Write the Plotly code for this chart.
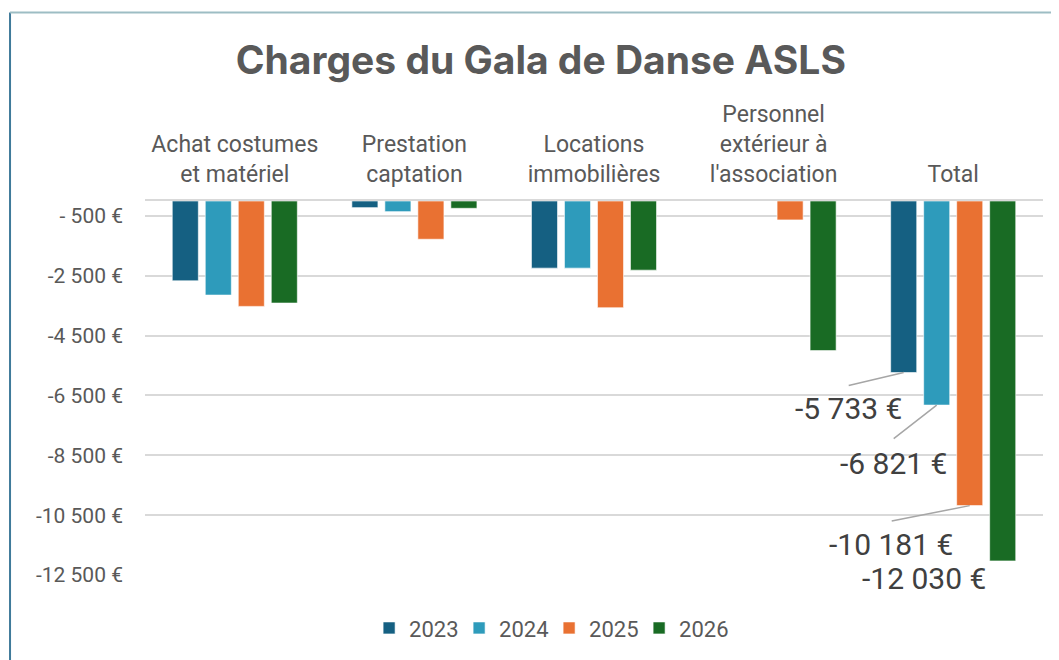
import plotly.graph_objects as go

categories = ["Achat costumes<br>et matériel", "Prestation<br>captation", "Locations<br>immobilières",
              "Personnel<br>extérieur à<br>l'association", "Total"]
years = ["2023", "2024", "2025", "2026"]
values_2023 = [-2667, -222, -2244, 0, -5733]
values_2024 = [-3144, -356, -2244, 0, -6821]
values_2025 = [-3522, -1278, -3567, -633, -10181]
values_2026 = [-3411, -244, -2311, -5000, -12030]
series = [values_2023, values_2024, values_2025, values_2026]
colors = ["#156082", "#2e9bbb", "#e97132", "#196b24"]

tick_vals = [-500, -2500, -4500, -6500, -8500, -10500, -12500]
tick_text = ["- 500 €", "-2 500 €", "-4 500 €", "-6 500 €", "-8 500 €", "-10 500 €", "-12 500 €"]

total_labels = ["-5 733 €", "-6 821 €", "-10 181 €", "-12 030 €"]

FONT = "Roboto"
GREY = "#595959"

fig = go.Figure()
for yr, vals, col in zip(years, series, colors):
    fig.add_trace(go.Bar(
        x=categories, y=vals, name=yr,
        marker=dict(color=col, line=dict(color="rgba(255,255,255,0.6)", width=1)),
    ))

# data labels for the Total bars (pixel offsets from each bar's bottom centre)
bar_shift = [-49.5, -16.5, 16.5, 49.5]
text_off = [(-55.5, 36), (-43.5, 58), (-78.5, 39), (-78.5, 18)]
leader_off = [(-55.5, 13), (-43.5, 34), (-78.5, 15.5), None]
for i in range(4):
    tip_x, tip_y = categories[-1], series[i][-1]
    fig.add_annotation(
        x=tip_x, y=tip_y, xref="x", yref="y",
        xshift=bar_shift[i] + text_off[i][0], yshift=-text_off[i][1],
        text=total_labels[i], showarrow=False,
        xanchor="center", yanchor="middle",
        font=dict(family=FONT, size=30, color="#404040"),
    )
    if leader_off[i] is not None:
        fig.add_annotation(
            x=tip_x, y=tip_y, xref="x", yref="y", xshift=bar_shift[i],
            text=" ", showarrow=True, arrowhead=0, arrowwidth=1.5, arrowcolor="#a6a6a6",
            ax=leader_off[i][0], ay=leader_off[i][1], borderpad=0,
            font=dict(size=1),
        )

# frame lines
fig.add_shape(type="line", xref="paper", yref="paper", x0=-0.1503, x1=-0.1503, y0=1.504, y1=-0.3,
              line=dict(color="#3f7a9a", width=2))
fig.add_shape(type="line", xref="paper", yref="paper", x0=-0.1503, x1=1.1, y0=1.504, y1=1.504,
              line=dict(color="#9dbdc4", width=2))

# page body has an 8px margin: shrink the figure so the plot area lands where the reference has it
fig.update_layout(
    width=1051, height=652,
    margin=dict(l=137, r=16, t=193, b=84),
    paper_bgcolor="white", plot_bgcolor="white",
    barmode="group", bargap=0.265, bargroupgap=0.21,
    title=dict(text="<b>Charges du Gala de Danse ASLS</b>", x=0.507, xanchor="center",
               y=1 - 52 / 652, yanchor="middle", font=dict(family="Inter", size=39, color=GREY)),
    font=dict(family=FONT, color=GREY),
    legend=dict(orientation="h", x=0.45, xanchor="center", y=-0.139, yanchor="middle",
                font=dict(family=FONT, size=22, color=GREY), itemwidth=30,
                entrywidth=45, entrywidthmode="pixels", traceorder="normal"),
    xaxis=dict(side="top", showgrid=False, showline=True, linecolor="#d9d9d9", linewidth=1.5,
               tickfont=dict(family=FONT, size=23, color=GREY), ticks="", ticklabelstandoff=8),
    yaxis=dict(range=[-12500, 0], tickvals=tick_vals, ticktext=tick_text,
               showgrid=True, gridcolor="#d9d9d9", gridwidth=1.5, zeroline=False,
               tickfont=dict(family=FONT, size=21, color=GREY), ticklabelstandoff=21),
    showlegend=True,
)

fig.write_html("out.html")
